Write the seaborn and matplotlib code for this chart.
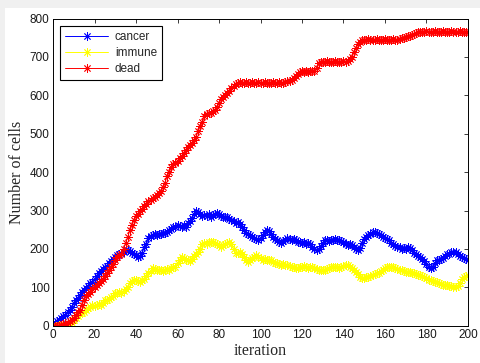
import matplotlib
matplotlib.use("Agg")
import matplotlib.pyplot as plt
import seaborn as sns
import numpy as np
from matplotlib.patches import Rectangle

iterations = list(range(0, 201))

cancer = [5, 8, 12, 15, 20, 24, 28, 35, 42, 50,
          60, 66, 72, 80, 87, 92, 98, 103, 110, 115,
          122, 130, 138, 142, 148, 152, 155, 162, 168, 175,
          178, 184, 186, 189, 192, 196, 197, 194, 190, 186,
          184, 180, 182, 190, 204, 212, 228, 234, 236, 238,
          236, 240, 238, 242, 241, 244, 248, 252, 256, 258,
          262, 260, 258, 262, 258, 268, 272, 280, 292, 300,
          296, 290, 286, 288, 286, 290, 284, 288, 292, 293,
          290, 286, 282, 284, 282, 278, 276, 272, 268, 270,
          266, 256, 248, 241, 238, 236, 232, 228, 226, 223,
          228, 236, 244, 249, 246, 238, 232, 226, 222, 219,
          216, 220, 224, 228, 226, 222, 226, 222, 218, 219,
          216, 218, 214, 215, 212, 206, 200, 197, 200, 208,
          216, 222, 223, 220, 224, 222, 226, 223, 224, 220,
          218, 214, 210, 212, 210, 206, 200, 197, 202, 215,
          226, 232, 236, 240, 244, 245, 242, 240, 236, 232,
          228, 226, 222, 216, 212, 208, 206, 204, 200, 202,
          200, 204, 202, 196, 190, 186, 182, 180, 174, 168,
          160, 152, 150, 154, 162, 170, 171, 174, 176, 182,
          186, 188, 192, 193, 192, 186, 182, 178, 176, 174,
          171]

immune = [0, 0, 0, 1, 1, 2, 2, 3, 5, 8,
          14, 20, 26, 34, 32, 35, 40, 46, 50, 54,
          52, 54, 56, 54, 60, 66, 68, 70, 74, 78,
          84, 86, 88, 86, 90, 96, 102, 110, 116, 119,
          120, 116, 114, 118, 122, 130, 136, 142, 150, 148,
          146, 144, 146, 142, 145, 148, 146, 150, 152, 154,
          162, 172, 180, 176, 172, 170, 168, 174, 182, 186,
          192, 200, 212, 215, 214, 218, 218, 219, 215, 212,
          210, 206, 210, 214, 216, 219, 212, 200, 189, 190,
          193, 186, 178, 172, 167, 170, 176, 180, 184, 180,
          176, 172, 174, 172, 171, 170, 166, 164, 162, 160,
          158, 160, 158, 158, 156, 154, 152, 150, 150, 152,
          154, 155, 152, 150, 154, 154, 150, 148, 146, 145,
          145, 146, 148, 150, 152, 154, 154, 152, 150, 154,
          156, 158, 158, 154, 150, 145, 140, 134, 128, 124,
          123, 126, 128, 130, 132, 134, 136, 138, 142, 146,
          150, 152, 154, 154, 152, 150, 148, 146, 144, 142,
          141, 140, 140, 138, 136, 134, 133, 132, 130, 128,
          124, 120, 118, 116, 115, 113, 110, 108, 107, 106,
          106, 104, 103, 102, 102, 104, 112, 122, 128, 130,
          132]

dead = [0, 0, 0, 0, 2, 4, 6, 8, 12, 16,
        20, 28, 36, 42, 55, 68, 78, 82, 88, 95,
        100, 106, 112, 116, 122, 130, 138, 145, 152, 160,
        172, 180, 184, 188, 200, 215, 230, 248, 262, 275,
        285, 292, 300, 305, 312, 318, 324, 328, 332, 336,
        340, 346, 352, 360, 372, 390, 400, 412, 420, 424,
        430, 436, 442, 450, 458, 466, 470, 476, 484, 492,
        508, 520, 530, 545, 550, 553, 555, 558, 562, 570,
        580, 590, 596, 600, 606, 612, 618, 624, 630, 632,
        634, 633, 632, 634, 632, 633, 634, 632, 633, 634,
        632, 633, 634, 632, 633, 632, 634, 633, 632, 634,
        633, 632, 634, 636, 638, 640, 645, 650, 656, 660,
        662, 661, 662, 660, 662, 663, 664, 672, 684, 688,
        687, 688, 689, 688, 687, 688, 689, 688, 687, 688,
        689, 688, 690, 694, 700, 712, 724, 734, 740, 743,
        745, 744, 746, 745, 744, 745, 746, 745, 744, 745,
        746, 745, 744, 745, 746, 745, 744, 746, 748, 750,
        752, 754, 755, 758, 760, 762, 764, 765, 766, 766,
        767, 766, 765, 766, 767, 766, 765, 766, 767, 766,
        765, 766, 767, 766, 765, 766, 767, 766, 765, 766,
        765]

series_names = ["cancer", "immune", "dead"]
series_colors = ["#0000ff", "#ffff00", "#ff0000"]

x_ticks = [0, 20, 40, 60, 80, 100, 120, 140, 160, 180, 200]
y_ticks = [0, 100, 200, 300, 400, 500, 600, 700, 800]

sns.set_style("white")
plt.rcParams['font.family'] = ['Liberation Sans', 'DejaVu Sans']

fig = plt.figure(figsize=(4.81, 3.63), dpi=100)
fig.patch.set_facecolor("#f0f0f0")
bg = Rectangle((5 / 481, 0), 1 - 5 / 481, 1 - 8 / 363,
               transform=fig.transFigure, facecolor="white",
               edgecolor="none", zorder=-10)
fig.patches.append(bg)

ax = fig.add_axes([53 / 481, 1 - 325.7 / 363, (468 - 53) / 481, (325.7 - 18.5) / 363])
ax.set_facecolor("white")
ax.set_zorder(1)

asterisk = (8, 2, 0)
for name, vals, col in zip(series_names, [cancer, immune, dead], series_colors):
    sns.lineplot(x=iterations, y=vals, ax=ax, color=col, marker=asterisk,
                 markersize=6, markeredgewidth=0.6, markeredgecolor=col,
                 linewidth=0.7, label=name)

ax.set_xlim(0, 200)
ax.set_ylim(0, 800)
ax.set_xticks(x_ticks)
ax.set_yticks(y_ticks)
ax.tick_params(direction="in", length=3, width=0.6, top=True, right=True,
               labelsize=8.5, colors="#1a1a1a", pad=2.5)
for s in ax.spines.values():
    s.set_visible(True)
    s.set_color("black")
    s.set_linewidth(0.7)

ax.set_xlabel("iteration", family=["Liberation Serif", "DejaVu Serif"], fontsize=11.5, labelpad=1)
ax.set_ylabel("Number of cells", family=["Liberation Serif", "DejaVu Serif"], fontsize=11.5, labelpad=3)

leg = ax.legend(loc="upper left", fontsize=8.5, frameon=True, fancybox=False,
                edgecolor="black", framealpha=1, borderpad=0.45, handlelength=3.6,
                labelspacing=0.35, handletextpad=0.6, borderaxespad=0.6)
leg.get_frame().set_linewidth(0.8)

fig.savefig("out.png", dpi=100, facecolor=fig.get_facecolor())
